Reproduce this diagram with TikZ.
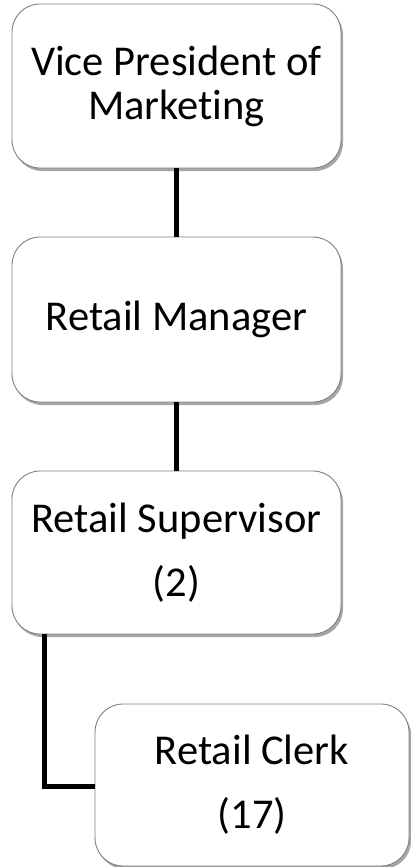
\documentclass[tikz,border=0pt]{standalone}
\usepackage{fontspec}
\setmainfont[Ligatures={NoCommon}]{Carlito}
\usetikzlibrary{shadows}
\definecolor{boxborder}{HTML}{7F7F7F}
\begin{document}
\begin{tikzpicture}[x=1pt,y=-1pt,
  orgbox/.style={draw=boxborder, line width=0.9pt, fill=white, rounded corners=28pt,
    minimum width=329pt, minimum height=164pt, inner sep=0pt, align=center,
    font=\fontsize{42.5}{44}\selectfont,
    drop shadow={shadow xshift=2pt, shadow yshift=-3pt, fill=black, opacity=0.35}},
  link/.style={line width=5pt, draw=black}]
\useasboundingbox (0,0) rectangle (410,867);
\node[orgbox] (vp) at (176.5,86) {Vice President of\\Market\kern0pt ing};
\node[orgbox, minimum height=165pt] (rm) at (176.5,319.5) {Retail Manager};
\node[orgbox, minimum height=163pt] (rs) at (176.5,552.5) {Retail Supervisor\\[20pt](2)};
\node[orgbox, minimum width=314pt, minimum height=162pt] (rc) at (252,785) {Retail Clerk\\[20pt](17)};
\coordinate (elbow) at (44,786);
\draw[link] (vp.south) -- (rm.north);
\draw[link] (rm.south) -- (rs.north);
\draw[link, line join=miter] (rs.south -| elbow) -- (elbow) -- (rc.west |- elbow);
\end{tikzpicture}
\end{document}
